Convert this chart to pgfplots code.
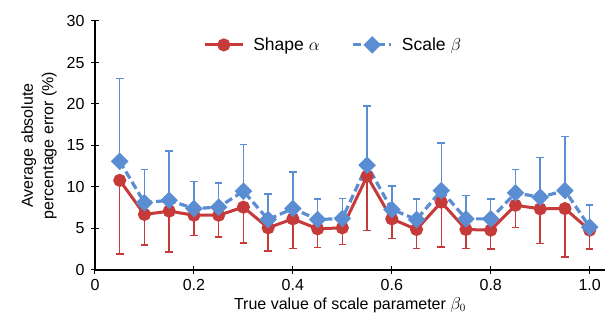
\documentclass[border=0pt]{standalone}
\usepackage{pgfplots}
\pgfplotsset{compat=1.18}
\usepackage{fontspec}
\setmainfont{Liberation Sans}
\definecolor{cred}{HTML}{C63A3A}
\definecolor{cblue}{HTML}{5B8DD2}
\begin{document}
\begin{tikzpicture}
\begin{axis}[
  width=510pt, height=249pt, scale only axis,
  xmin=0, xmax=1.031, ymin=0, ymax=30,
  axis lines=left, axis line style={-, line width=1.2pt},
  tick style={black, line width=1pt}, major tick length=8pt,
  xtick={0,0.2,0.4,0.6,0.8,1.0},
  xticklabels={0,0.2,0.4,0.6,0.8,1.0},
  ytick={0,5,10,15,20,25,30},
  /pgf/number format/assume math mode=true,
  ticklabel style={font=\fontsize{16}{19}\selectfont},
  yticklabel style={xshift=-3pt},
  xticklabel style={yshift=-2pt},
  label style={font=\fontsize{16}{20.5}\selectfont},
  xlabel={True value of scale parameter $\beta_0$},
  ylabel={Average absolute\\percentage error (\%)},
  ylabel style={align=center, at={(axis description cs:-0.11,0.5)}, anchor=center, rotate=0},
  xlabel style={at={(axis description cs:0.5,-0.14)}, anchor=center},
  legend style={at={(0.467,0.904)}, anchor=center, draw=none, fill=none,
    legend columns=2, font=\fontsize{17.5}{20}\selectfont,
    /tikz/every odd column/.append style={column sep=7pt},
    /tikz/every even column/.append style={column sep=30pt}},
  legend image code/.code={
    \draw[#1, mark repeat=2, mark phase=2] plot coordinates {(0pt,0pt) (19pt,0pt) (38pt,0pt)};},
]
\addplot[cred, line width=3pt,
  mark=*, mark size=5pt, mark options={fill=cred},
  error bars/.cd, y dir=minus, y explicit,
  error bar style={line width=1.5pt}, error mark options={rotate=90, mark size=3.8pt, line width=1.5pt}]
coordinates {
(0.05,10.8) +- (0,8.9)
(0.10,6.69) +- (0,3.66)
(0.15,7.09) +- (0,4.9)
(0.20,6.6) +- (0,2.45)
(0.25,6.6) +- (0,2.65)
(0.30,7.57) +- (0,4.34)
(0.35,5.08) +- (0,2.77)
(0.40,6.16) +- (0,3.6)
(0.45,4.96) +- (0,2.25)
(0.50,5.08) +- (0,2.0)
(0.55,11.3) +- (0,6.54)
(0.60,6.16) +- (0,2.37)
(0.65,4.88) +- (0,2.3)
(0.70,8.17) +- (0,5.4)
(0.75,4.88) +- (0,2.3)
(0.80,4.8) +- (0,2.25)
(0.85,7.8) +- (0,2.7)
(0.90,7.37) +- (0,4.2)
(0.95,7.4) +- (0,5.86)
(1.00,4.8) +- (0,2.25)
};
\addplot[cblue, line width=3.2pt, dash pattern=on 8pt off 4pt,
  mark=square*, mark size=4.6pt, mark options={solid, fill=cblue, rotate=45},
  error bars/.cd, y dir=plus, y explicit,
  error bar style={line width=1.5pt, solid}, error mark options={rotate=90, mark size=3.8pt, line width=1.5pt, solid}]
coordinates {
(0.05,13.1) +- (0,10.0)
(0.10,8.1) +- (0,4.0)
(0.15,8.4) +- (0,5.96)
(0.20,7.4) +- (0,3.26)
(0.25,7.57) +- (0,2.9)
(0.30,9.5) +- (0,5.6)
(0.35,6.08) +- (0,3.1)
(0.40,7.4) +- (0,4.4)
(0.45,6.08) +- (0,2.5)
(0.50,6.2) +- (0,2.4)
(0.55,12.63) +- (0,7.1)
(0.60,7.29) +- (0,2.8)
(0.65,6.08) +- (0,2.5)
(0.70,9.57) +- (0,5.75)
(0.75,6.16) +- (0,2.8)
(0.80,6.16) +- (0,2.4)
(0.85,9.3) +- (0,2.8)
(0.90,8.77) +- (0,4.8)
(0.95,9.57) +- (0,6.5)
(1.00,5.16) +- (0,2.7)
};
\legend{Shape $\alpha$, Scale $\beta$}
\end{axis}
\path (current axis.south west) ++(-95pt,-52pt) (current axis.north east) ++(7pt,21pt);
\end{tikzpicture}
\end{document}
